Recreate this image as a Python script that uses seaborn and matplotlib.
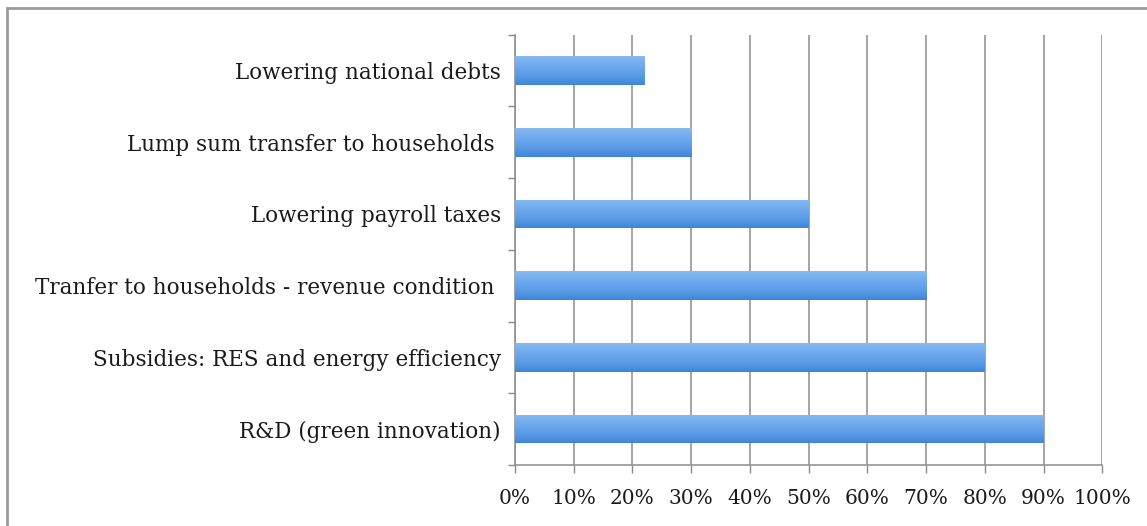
import numpy as np
import pandas as pd
import matplotlib
matplotlib.use("Agg")
import matplotlib.pyplot as plt
from matplotlib.patches import Rectangle
from matplotlib.colors import LinearSegmentedColormap
import seaborn as sns

# Share of respondents favouring each use of carbon-tax revenue (%)
measures = [
    "Lowering national debts",
    "Lump sum transfer to households ",
    "Lowering payroll taxes",
    "Tranfer to households - revenue condition ",
    "Subsidies: RES and energy efficiency",
    "R&D (green innovation)",
]
shares = [22, 30, 50, 70, 80, 90]
pct_ticks = list(range(0, 101, 10))
pct_labels = [f"{t}%" for t in pct_ticks]

sns.set_theme(style="white")
plt.rcParams["font.family"] = ["DejaVu Serif"]

df = pd.DataFrame({"measure": measures, "share": shares})

fig = plt.figure(figsize=(11.47, 5.26), dpi=100)
ax = fig.add_axes([0.449, 0.116, 0.512, 0.818])

sns.barplot(data=df, x="share", y="measure", orient="h", width=0.4,
            color="#5f9fe8", saturation=1, ax=ax, zorder=3)

# vertical blue gradient inside each bar: lighter top, darker bottom
grad = LinearSegmentedColormap.from_list(
    "barblue", ["#86baf1", "#6eaaee", "#5b9be6", "#3f86d9"])
for p in ax.patches:
    x0, y0 = p.get_x(), p.get_y()
    w, h = p.get_width(), p.get_height()
    p.set_edgecolor("none")
    img = ax.imshow(np.linspace(0, 1, 64).reshape(-1, 1), cmap=grad,
                    aspect="auto", extent=[x0, x0 + w, y0 + h, y0],
                    origin="upper", zorder=4, interpolation="bilinear")
    img.set_clip_path(p)

ax.set_xlim(0, 100)
ax.set_ylim(len(measures) - 0.5, -0.5)
ax.set_xticks(pct_ticks)
ax.set_xticklabels(pct_labels)
ax.set_xlabel("")
ax.set_ylabel("")

# category boundary ticks on the y axis, labels centered on bars
ax.set_yticks(np.arange(len(measures)))
ax.set_yticklabels(measures)
ax.set_yticks(np.arange(len(measures) + 1) - 0.5, minor=True)
ax.tick_params(axis="y", which="major", length=0, pad=10, labelsize=15.5,
               labelcolor="#1a1a1a")
ax.tick_params(axis="y", which="minor", length=5, width=1, color="#8a8a8a",
               direction="out", left=True)
ax.tick_params(axis="x", which="major", length=6, width=1, color="#8a8a8a",
               direction="out", bottom=True, pad=11, labelsize=14.5,
               labelcolor="#1a1a1a")

ax.grid(axis="x", color="#8c8c8c", linewidth=1.1, zorder=1)
ax.set_axisbelow(True)
for side in ["top", "right"]:
    ax.spines[side].set_visible(False)
for side in ["left", "bottom"]:
    ax.spines[side].set_color("#8c8c8c")
    ax.spines[side].set_linewidth(1.1)

# chart frame (top and left edges fall inside the canvas)
fig.patches.append(Rectangle((7 / 1147, -0.05), 1.1, 1 - 8 / 526 + 0.05,
                             transform=fig.transFigure, fill=False,
                             edgecolor="#9a9a9a", linewidth=2))

fig.savefig("out.png", dpi=100)
